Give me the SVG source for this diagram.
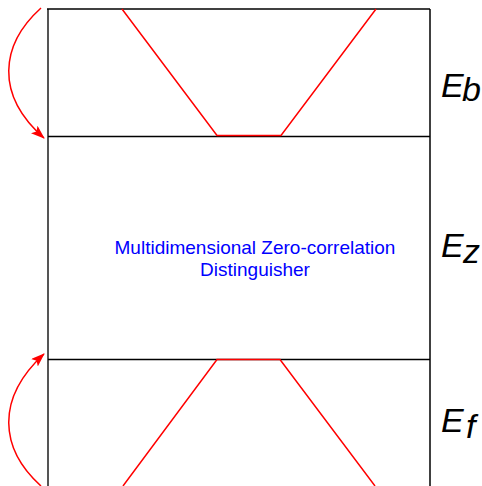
<svg xmlns="http://www.w3.org/2000/svg" width="482" height="486" viewBox="0 0 482 486">
<defs>
<marker id="ah" viewBox="0 0 14 10" refX="13" refY="5" markerWidth="14" markerHeight="10" orient="auto" markerUnits="userSpaceOnUse">
<path d="M0,0 L14,5 L0,10 L3,5 z" fill="#ff0000"/>
</marker>
<style>
.frame{stroke:#000;stroke-width:1.5;fill:none}
.side{stroke:#555;stroke-width:2;fill:none}
.red{stroke:#ff0000;stroke-width:1.5;fill:none}
.lbl{font-family:"Liberation Sans",Arial,sans-serif;font-style:italic;fill:#000;font-size:34px}
.txt{font-family:"Liberation Sans",Arial,sans-serif;font-size:19px;fill:#0000ff;text-anchor:middle}
</style>
</defs>
<rect width="482" height="486" fill="#fff"/>
<g id="frame">
<line class="side" x1="48" y1="9" x2="48" y2="486"/>
<line class="frame" x1="430" y1="9" x2="430" y2="486"/>
<line class="frame" x1="47" y1="9" x2="430" y2="9"/>
<line class="frame" x1="48" y1="136.5" x2="430" y2="136.5"/>
<line class="frame" x1="48" y1="359.5" x2="430" y2="359.5"/>
</g>
<g id="backward">
<polyline class="red" points="122,9 217,135.5 281,135.5 376,9"/>
<text class="lbl" x="441" y="97">E</text><text class="lbl" x="462" y="101" font-size="22">b</text>
</g>
<g id="distinguisher">
<text class="txt" x="255" y="254">Multidimensional Zero-correlation</text>
<text class="txt" x="255" y="276">Distinguisher</text>
<text class="lbl" x="441" y="257">E</text><text class="lbl" x="463" y="263" font-size="28">z</text>
</g>
<g id="forward">
<polyline class="red" points="123,486 217,359.5 280,359.5 375,486"/>
<text class="lbl" x="441" y="432">E</text><text class="lbl" x="466" y="438" font-size="21">f</text>
</g>
<g id="connectors">
<path class="red" d="M41,8 C0,45 -5,95 44,138" marker-end="url(#ah)"/>
<path class="red" d="M41,486 C0,449 -5,399 44,354" marker-end="url(#ah)"/>
</g>
</svg>
